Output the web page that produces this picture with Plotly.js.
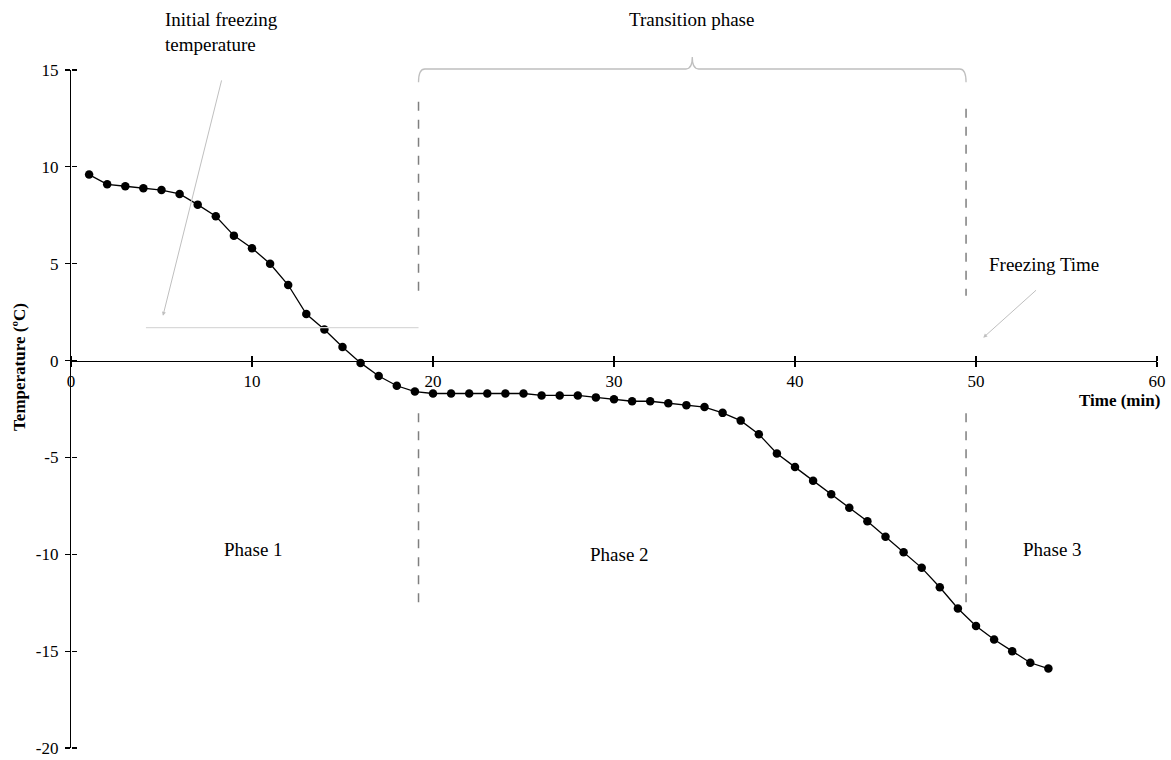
<!DOCTYPE html>
<html>
<head>
<meta charset="utf-8">
<script src="https://cdn.plot.ly/plotly-3.0.1.min.js"></script>
<style>html,body{margin:0;padding:0;background:#fff;}#chart{width:1171px;height:760px;}</style>
</head>
<body>
<div id="chart"></div>
<script>
// Data
const timeMin = [1,2,3,4,5,6,7,8,9,10,11,12,13,14,15,16,17,18,19,20,21,22,23,24,25,26,27,28,29,30,31,32,33,34,35,36,37,38,39,40,41,42,43,44,45,46,47,48,49,50,51,52,53,54];
const temperature = [9.6,9.1,9.0,8.9,8.8,8.6,8.05,7.45,6.45,5.8,5.0,3.9,2.4,1.6,0.7,-0.12,-0.8,-1.3,-1.6,-1.7,-1.7,-1.7,-1.7,-1.7,-1.7,-1.8,-1.8,-1.8,-1.9,-2.0,-2.1,-2.1,-2.2,-2.3,-2.4,-2.7,-3.1,-3.8,-4.8,-5.5,-6.2,-6.9,-7.6,-8.3,-9.1,-9.9,-10.7,-11.7,-12.8,-13.7,-14.4,-15.0,-15.6,-15.9];
const xTicks = [0,10,20,30,40,50,60];
const yTicks = [-20,-15,-10,-5,0,5,10,15];
const phaseLabels = ["Phase 1","Phase 2","Phase 3"];
const phaseX = [10.1,30.3,54.2];
const phaseY = [-9.76,-10.0,-9.76];
const phaseBounds = [19.2,49.45];
const initialFreezingTemp = 1.7;

const serif = "Liberation Serif, Times New Roman, serif";
const yRange = [-20,15];
const xAxisPos = (0 - yRange[0])/(yRange[1]-yRange[0]);
const gray = "#7f7f7f";
const light = "#bfbfbf";

const trace = {
  x: timeMin, y: temperature, type: "scatter", mode: "lines+markers",
  line: {color: "#000", width: 1.3},
  marker: {color: "#000", size: 8.5},
  cliponaxis: false, showlegend: false
};
// invisible trace for the secondary (tick-only) axes
const ghost = {x:[0], y:[0], xaxis:"x2", yaxis:"y2", mode:"markers", marker:{opacity:0}, showlegend:false, hoverinfo:"skip"};

const axisCommon = {showgrid:false, zeroline:false, showline:true, linecolor:"#000", linewidth:1.2,
  ticks:"outside", ticklen:5, tickcolor:"#000", tickwidth:1.2, ticklabeloverflow:"allow",
  tickfont:{family:serif, size:17, color:"#000"}};

const shapes = [];
// dashed phase boundaries
phaseBounds.forEach((bx,i)=>{
  const top = i===0 ? 13.36 : 13.0;
  shapes.push({type:"line", xref:"x", yref:"y", x0:bx, x1:bx, y0:top, y1:3.34, line:{color:gray, width:1.5, dash:"dash"}});
  shapes.push({type:"line", xref:"x", yref:"y", x0:bx, x1:bx, y0:-2.72, y1:-12.7, line:{color:gray, width:1.5, dash:"dash"}});
});
// initial freezing temperature line
shapes.push({type:"line", xref:"x", yref:"y", x0:4.14, x1:phaseBounds[0], y0:initialFreezingTemp, y1:initialFreezingTemp, line:{color:"#d9d9d9", width:1.2}});
// brace
(function(){
  const a = phaseBounds[0], b = phaseBounds[1], m = (a+b)/2;
  const yl = 1.0015, ye = 0.982, yt = 1.019, d = 0.35;
  const p = `M ${a},${ye} Q ${a},${yl} ${a+d},${yl} L ${m-d},${yl} Q ${m},${yl} ${m},${yt} Q ${m},${yl} ${m+d},${yl} L ${b-d},${yl} Q ${b},${yl} ${b},${ye}`;
  shapes.push({type:"path", xref:"x", yref:"paper", path:p, line:{color:light, width:1.3}});
})();

const annFont = {family:serif, size:19, color:"#000"};
const annotations = [
  {xref:"x", yref:"paper", x:5.08, y:1.056, text:"Initial freezing<br>temperature", showarrow:false, xanchor:"left", yanchor:"middle", align:"left", font:annFont},
  {xref:"x", yref:"paper", x:34.3, y:1.074, text:"Transition phase", showarrow:false, xanchor:"center", yanchor:"middle", font:annFont},
  {xref:"x", yref:"y", x:50.6, y:4.98, text:"Freezing Time", showarrow:false, xanchor:"left", yanchor:"middle", font:annFont},
  // arrows
  {xref:"x", yref:"y", axref:"x", ayref:"y", x:5.08, y:2.31, ax:8.34, ay:14.54, text:"", showarrow:true, arrowhead:2, arrowsize:0.8, arrowwidth:1, arrowcolor:light, standoff:0, startstandoff:0},
  {xref:"x", yref:"y", axref:"x", ayref:"y", x:50.4, y:1.18, ax:53.4, ay:3.7, text:"", showarrow:true, arrowhead:2, arrowsize:0.8, arrowwidth:1, arrowcolor:light, standoff:0, startstandoff:0},
  {xref:"x", yref:"y", x:60, y:-2.06, xshift:5, text:"<b>Time (min)</b>", showarrow:false, xanchor:"right", yanchor:"middle", font:{family:serif, size:17, color:"#000"}},
  {xref:"paper", yref:"paper", x:-0.047, y:0.562, text:"<b>Temperature (ºC)</b>", textangle:-90, showarrow:false, xanchor:"center", yanchor:"middle", font:{family:serif, size:17, color:"#000"}}
];
phaseLabels.forEach((t,i)=>annotations.push({xref:"x", yref:"y", x:phaseX[i], y:phaseY[i], text:t, showarrow:false, xanchor:"center", yanchor:"middle", font:annFont}));

const layout = {
  width:1171, height:760,
  margin:{l:71, r:14, t:70, b:12},
  paper_bgcolor:"#fff", plot_bgcolor:"#fff",
  showlegend:false,
  xaxis: Object.assign({}, axisCommon, {range:[0,60], tickvals:xTicks, ticktext:xTicks.map(String), anchor:"free", position:xAxisPos, side:"bottom"}),
  yaxis: Object.assign({}, axisCommon, {range:yRange, tickvals:yTicks, ticktext:yTicks.map(String), anchor:"x", side:"left", ticklabelstandoff:3}),
  xaxis2: {range:[0,60], overlaying:"x", anchor:"free", position:xAxisPos, side:"top", showgrid:false, zeroline:false, showline:false, ticks:"outside", ticklen:5, tickcolor:"#000", tickwidth:1.2, tickvals:xTicks, showticklabels:false},
  yaxis2: {range:yRange, overlaying:"y", anchor:"free", position:0, side:"right", showgrid:false, zeroline:false, showline:false, ticks:"outside", ticklen:5, tickcolor:"#000", tickwidth:1.2, tickvals:yTicks, showticklabels:false},
  shapes: shapes,
  annotations: annotations
};

Plotly.newPlot("chart", [trace, ghost], layout, {displayModeBar:false, staticPlot:true});
</script>
</body>
</html>
